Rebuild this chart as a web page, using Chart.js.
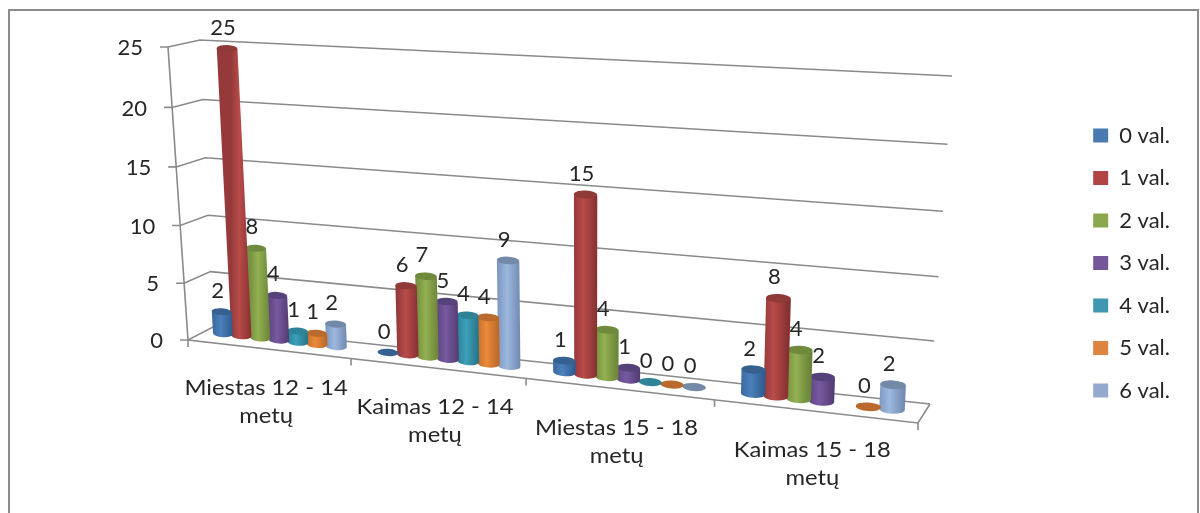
<!DOCTYPE html>
<html>
<head>
<meta charset="utf-8">
<title>Val. per dieną</title>
<style>
  html, body { margin: 0; padding: 0; background: #fff; }
  canvas { display: block; }
</style>
<script src="https://cdn.jsdelivr.net/npm/chart.js@4/dist/chart.umd.min.js"></script>
</head>
<body>
<canvas id="chart" width="1200" height="513"></canvas>
<script>
const categories = [
    ['Miestas 12 - 14', 'metų'],
    ['Kaimas 12 - 14', 'metų'],
    ['Miestas 15 - 18', 'metų'],
    ['Kaimas 15 - 18', 'metų']
];
const seriesNames = ['0 val.', '1 val.', '2 val.', '3 val.', '4 val.', '5 val.', '6 val.'];
const val0 = [2, 0, 1, 2];
const val1 = [25, 6, 15, 8];
const val2 = [8, 7, 4, 4];
const val3 = [4, 5, 1, 2];
const val4 = [1, 4, 0, null];
const val5 = [1, 4, 0, 0];
const val6 = [2, 9, 0, 2];
const seriesValues = [val0, val1, val2, val3, val4, val5, val6];
const valueTicks = [0, 5, 10, 15, 20, 25];

// legend colour, cylinder side (edge, light, dark edge), cylinder cap
const legendColors = ['#4a7ab0', '#b04543', '#8ca84e', '#735799', '#4098b0', '#dd8440', '#95a9cf'];
const sideColors = [
    ['#3a6a9f', '#4a80bb', '#2f5a8a'],
    ['#96393a', '#b84c4a', '#853130'],
    ['#779140', '#93b152', '#6a8238'],
    ['#5e4682', '#7759a0', '#523c72'],
    ['#2c8299', '#3ba0b8', '#267287'],
    ['#c8702a', '#ea8a3a', '#b86626'],
    ['#7f9ac2', '#9db8de', '#7189b0']
];
const capColors = ['#35608f', '#8e3a38', '#6f8a3c', '#56427a', '#2f8397', '#b96a2c', '#7389a8'];

const FONT = 'Lato, "Open Sans", sans-serif';
const TEXT = '#262626';
const LINE = '#8a8a8a';

// corners of the slanted box, order: bottom left, bottom right, top right, top left
const frontPlane = [[188, 340], [918, 423], [928, 85], [168, 47]];
const middlePlane = [[198.5, 331], [923.5, 413], [939.5, 89], [182.5, 46]];
const backPlane = [[213, 327], [930, 404], [952, 76], [200, 40]];

// unit square to quad, returns a function (u, v) => [x, y]
function makeProjection(q) {
    const [x0, y0] = q[0], [x1, y1] = q[1], [x2, y2] = q[2], [x3, y3] = q[3];
    const dx1 = x1 - x2, dx2 = x3 - x2, sx = x0 - x1 + x2 - x3;
    const dy1 = y1 - y2, dy2 = y3 - y2, sy = y0 - y1 + y2 - y3;
    const den = dx1 * dy2 - dx2 * dy1;
    const g = (sx * dy2 - dx2 * sy) / den;
    const h = (dx1 * sy - sx * dy1) / den;
    const a = x1 - x0 + g * x1, b = x3 - x0 + h * x3;
    const d = y1 - y0 + g * y1, e = y3 - y0 + h * y3;
    return function(u, v) {
        const w = g * u + h * v + 1;
        return [(a * u + b * v + x0) / w, (d * u + e * v + y0) / w];
    };
}
const toFront = makeProjection(frontPlane);
const toMiddle = makeProjection(middlePlane);
const toBack = makeProjection(backPlane);

function unitX(chart, px) {
    return (px - chart.chartArea.left) / chart.chartArea.width;
}
function unitY(chart, py) {
    return (chart.chartArea.bottom - py) / chart.chartArea.height;
}

function strokePath(ctx, points) {
    ctx.beginPath();
    points.forEach((p, i) => i ? ctx.lineTo(p[0], p[1]) : ctx.moveTo(p[0], p[1]));
    ctx.stroke();
}

// category text runs a little wider than the font's natural width
function wideText(ctx, text, x, y, stretch) {
    ctx.save();
    ctx.translate(x, y);
    ctx.scale(stretch, 1);
    ctx.fillText(text, 0, 0);
    ctx.restore();
}

function drawCylinder(ctx, chart, bar, index) {
    const half = bar.width / 2;
    const uLeft = unitX(chart, bar.x - half);
    const uRight = unitX(chart, bar.x + half);
    const vTop = unitY(chart, bar.y);
    const vBase = unitY(chart, bar.base);

    const lb = toMiddle(uLeft, vBase), rb = toMiddle(uRight, vBase);
    const lt = toMiddle(uLeft, vTop), rt = toMiddle(uRight, vTop);

    const cap = (l, r) => {
        const rx = Math.hypot(r[0] - l[0], r[1] - l[1]) / 2;
        return {
            x: (l[0] + r[0]) / 2,
            y: (l[1] + r[1]) / 2,
            rx: rx,
            ry: rx * 0.34,
            angle: Math.atan2(r[1] - l[1], r[0] - l[0]) * 0.6
        };
    };
    const bottom = cap(lb, rb), top = cap(lt, rt);

    if (vTop > vBase) {
        const grad = ctx.createLinearGradient(lb[0], 0, rb[0], 0);
        grad.addColorStop(0, sideColors[index][0]);
        grad.addColorStop(0.4, sideColors[index][1]);
        grad.addColorStop(1, sideColors[index][2]);
        ctx.fillStyle = grad;
        ctx.beginPath();
        ctx.moveTo(lt[0], lt[1]);
        ctx.lineTo(lb[0], lb[1]);
        ctx.ellipse(bottom.x, bottom.y, bottom.rx, bottom.ry, bottom.angle, Math.PI, 0, true);
        ctx.lineTo(rt[0], rt[1]);
        ctx.closePath();
        ctx.fill();
    }
    ctx.fillStyle = capColors[index];
    ctx.beginPath();
    ctx.ellipse(top.x, top.y, top.rx, top.ry, top.angle, 0, Math.PI * 2);
    ctx.fill();
}

const boxPlugin = {
    id: 'box3d',
    beforeDraw(chart) {
        // outer border, open at the bottom
        const ctx = chart.ctx;
        ctx.save();
        ctx.strokeStyle = '#8c8c8c';
        ctx.lineWidth = 2;
        strokePath(ctx, [[9, 513], [9, 10], [1198, 10], [1198, 513]]);
        ctx.restore();
    },
    beforeDatasetsDraw(chart) {
        const ctx = chart.ctx;
        const yScale = chart.scales.y;
        const xScale = chart.scales.x;
        ctx.save();
        ctx.strokeStyle = LINE;
        ctx.lineWidth = 1.6;

        // gridlines with their ticks and value labels
        ctx.fillStyle = TEXT;
        ctx.font = '22px ' + FONT;
        ctx.textAlign = 'right';
        ctx.textBaseline = 'middle';
        valueTicks.forEach(value => {
            const v = unitY(chart, yScale.getPixelForValue(value));
            const f = toFront(0, v);
            strokePath(ctx, [[f[0] - 8, f[1]], f, toBack(0, v), toBack(1, v)]);
            ctx.fillText(String(value), f[0] - 25, f[1] + 1);
        });

        // axis and floor outline
        strokePath(ctx, [toFront(0, 1), toFront(0, 0), toFront(1, 0), toBack(1, 0)]);

        // category ticks and labels along the front edge of the floor
        const step = xScale.getPixelForValue(1) - xScale.getPixelForValue(0);
        for (let i = 0; i <= categories.length; i++) {
            const p = toFront(unitX(chart, xScale.getPixelForValue(0) - step / 2 + i * step), 0);
            strokePath(ctx, [p, [p[0], p[1] + 7]]);
        }
        ctx.textAlign = 'center';
        categories.forEach((lines, i) => {
            const p = toFront(unitX(chart, xScale.getPixelForValue(i)), 0);
            lines.forEach((line, n) => {
                wideText(ctx, line, p[0] - 2, p[1] + 39 + n * 28, 1.08);
            });
        });
        ctx.restore();
    },
    beforeDatasetDraw(chart, args) {
        // the library's rectangles are replaced by cylinders on the same elements
        const ctx = chart.ctx;
        ctx.save();
        args.meta.data.forEach((bar, i) => {
            if (seriesValues[args.index][i] === null) return;
            drawCylinder(ctx, chart, bar, args.index);
        });
        ctx.restore();
        return false;
    },
    afterDatasetsDraw(chart) {
        const ctx = chart.ctx;
        ctx.save();
        ctx.fillStyle = TEXT;
        ctx.font = '22px ' + FONT;
        ctx.textAlign = 'center';
        ctx.textBaseline = 'middle';
        seriesValues.forEach((values, s) => {
            chart.getDatasetMeta(s).data.forEach((bar, i) => {
                if (values[i] === null) return;
                const p = toMiddle(unitX(chart, bar.x), unitY(chart, bar.y));
                ctx.fillText(String(values[i]), p[0] - 4, p[1] - 21);
            });
        });
        ctx.restore();
    }
};

new Chart(document.getElementById('chart'), {
    type: 'bar',
    data: {
        labels: categories,
        datasets: seriesNames.map((name, i) => ({
            label: name,
            data: seriesValues[i],
            backgroundColor: legendColors[i],
            borderWidth: 0,
            categoryPercentage: 0.81,
            barPercentage: 1.07
        }))
    },
    options: {
        responsive: false,
        animation: false,
        layout: { padding: { left: 20, right: 20, top: 33, bottom: 20 } },
        scales: {
            x: { display: false },
            y: { display: false, min: 0, max: 25, ticks: { stepSize: 5 } }
        },
        plugins: {
            tooltip: { enabled: false },
            legend: {
                position: 'right',
                align: 'center',
                onClick: null,
                labels: {
                    boxWidth: 15,
                    boxHeight: 14,
                    padding: 20.5,
                    color: TEXT,
                    font: { family: FONT, size: 22 }
                }
            }
        }
    },
    plugins: [boxPlugin]
});
</script>
</body>
</html>
